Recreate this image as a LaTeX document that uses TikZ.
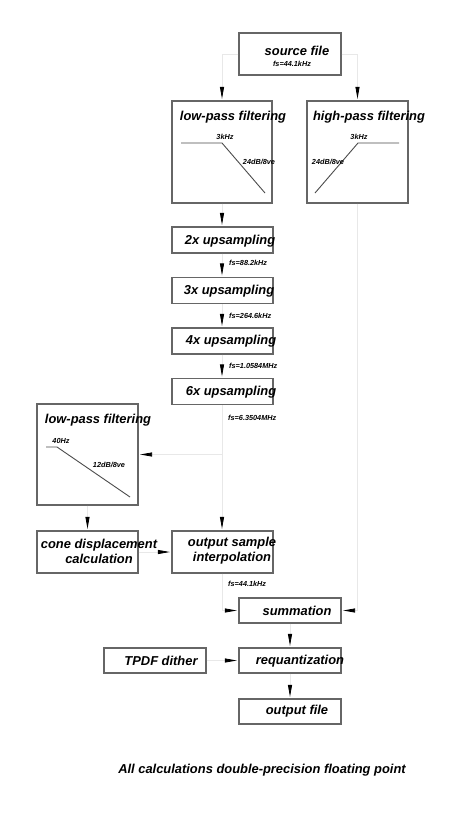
\documentclass[tikz,border=0pt]{standalone}
\usepackage{fontspec}
\setmainfont{Liberation Sans}
\usepackage{tikz}
\usetikzlibrary{arrows.meta}

\begin{document}
\begin{tikzpicture}[x=1pt,y=-1pt,
  blk/.style={draw=black!60, line width=1.1pt, fill=white, inner sep=0pt},
  ttl/.style={font=\fontsize{12.9}{15}\selectfont\bfseries\itshape, inner sep=0pt, align=center},
  tiny/.style={font=\fontsize{7.3}{8}\selectfont\bfseries\itshape, inner sep=0pt},
  flow/.style={draw=black!9, line width=.8pt, shorten >=1.5pt,
    -{Triangle[length=12pt,width=4pt,color=black]}},
  curve/.style={draw=black!70, line width=.9pt}]
  \useasboundingbox (0,0) rectangle (450,822);

  % boxes
  \node[blk, minimum width=102pt, minimum height=42pt] (src) at (290,54) {};
  \node[blk, minimum width=100pt, minimum height=102pt] (lpa) at (222,152) {};
  \node[blk, minimum width=101pt, minimum height=102pt] (hpa) at (357.5,152) {};
  \node[blk, minimum width=101pt, minimum height=26pt] (up2) at (222.5,240) {};
  \node[blk, minimum width=101pt, minimum height=26pt] (up3) at (222.5,290.5) {};
  \node[blk, minimum width=101pt, minimum height=26pt] (up4) at (222.5,341) {};
  \node[blk, minimum width=101pt, minimum height=26pt] (up6) at (222.5,391.5) {};
  \node[blk, minimum width=101pt, minimum height=101pt] (lpb) at (87.5,454.5) {};
  \node[blk, minimum width=101pt, minimum height=42pt] (cone) at (87.5,552) {};
  \node[blk, minimum width=101pt, minimum height=42pt] (intp) at (222.5,552) {};
  \node[blk, minimum width=102pt, minimum height=25pt] (sum) at (290,610.5) {};
  \node[blk, minimum width=102pt, minimum height=25pt] (req) at (290,660.5) {};
  \node[blk, minimum width=102pt, minimum height=25pt] (dith) at (155,660.5) {};
  \node[blk, minimum width=102pt, minimum height=25pt] (outf) at (290,711.5) {};

  % texts
  \node[ttl] (srct) at (297,51) {source file};
  \node[tiny] (srcfs) at (292,64) {fs=44.1kHz};
  \node[ttl] (lpat) at (233,117) {low-pass filtering};
  \node[ttl] (hpat) at (369,117) {high-pass filtering};
  \node[ttl] (up2t) at (230,241) {2x upsampling};
  \node[ttl] (up3t) at (229,291) {3x upsampling};
  \node[ttl] (up4t) at (231,341) {4x upsampling};
  \node[ttl] (up6t) at (231,392) {6x upsampling};
  \node[ttl] (lpbt) at (98,420) {low-pass filtering};
  \node[ttl] (conet) at (99,551) {cone displacement\\calculation};
  \node[ttl] (intpt) at (232,551) {output sample\\interpolation};
  \node[ttl] (sumt) at (297,611) {summation};
  \node[ttl] (reqt) at (300,661) {requantization};
  \node[ttl] (ditht) at (161,661) {TPDF dither};
  \node[ttl] (outft) at (297,711) {output file};
  \node[ttl] (note) at (262,770) {All calculations double-precision floating point};

  % sample rates
  \node[tiny, anchor=west] (fs2) at (229,263) {fs=88.2kHz};
  \node[tiny, anchor=west] (fs3) at (229,316) {fs=264.6kHz};
  \node[tiny, anchor=west] (fs4) at (229,366) {fs=1.0584MHz};
  \node[tiny, anchor=west] (fs6) at (228,418) {fs=6.3504MHz};
  \node[tiny, anchor=west] (fso) at (228,584) {fs=44.1kHz};

  % filter responses
  \draw[curve] (181,143) -- (222,143) -- (265,193);
  \node[tiny] (lpafc) at (225,137) {3kHz};
  \node[tiny] (lpasl) at (259,162) {24dB/8ve};
  \draw[curve] (315,193) -- (358,143) -- (399,143);
  \node[tiny] (hpafc) at (359,137) {3kHz};
  \node[tiny] (hpasl) at (328,162) {24dB/8ve};
  \draw[curve] (46,447) -- (57,447) -- (130,497);
  \node[tiny] (lpbfc) at (61,441) {40Hz};
  \node[tiny] (lpbsl) at (109,465) {12dB/8ve};

  % connectors
  \draw[flow] (src.west) -| (lpa.north);
  \draw[flow] (src.east) -| (hpa.north);
  \draw[flow] (lpa.south) -- (lpa.south |- up2.north);
  \draw[flow] (up2.south -| lpa.south) -- (up3.north -| lpa.south);
  \draw[flow] (up3.south -| lpa.south) -- (up4.north -| lpa.south);
  \draw[flow] (up4.south -| lpa.south) -- (up6.north -| lpa.south);
  \draw[flow] (up6.south -| lpa.south) -- (intp.north -| lpa.south);
  \coordinate (tap) at (lpb.east -| lpa.south);
  \draw[flow] (tap) -- (lpb.east);
  \draw[flow] (lpb.south) -- (cone.north);
  \draw[flow] (cone.east) -- (intp.west);
  \draw[flow] (intp.south -| lpa.south) |- (sum.west);
  \draw[flow] (hpa.south) |- (sum.east);
  \draw[flow] (sum.south) -- (req.north);
  \draw[flow] (dith.east) -- (req.west);
  \draw[flow] (req.south) -- (outf.north);
\end{tikzpicture}
\end{document}
